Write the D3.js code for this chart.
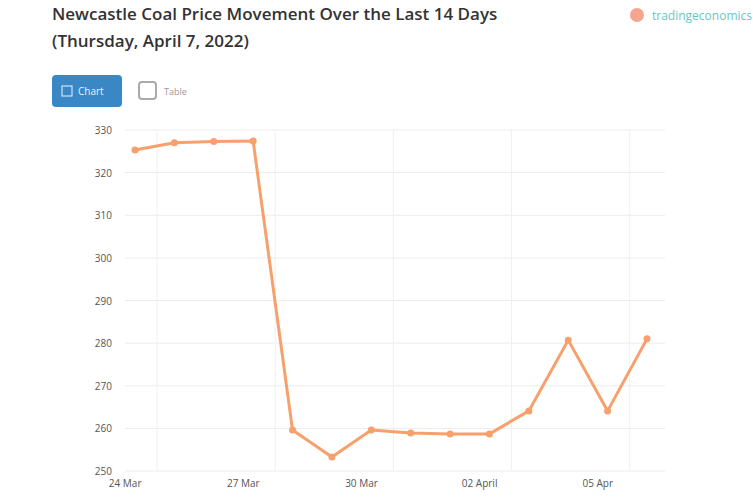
<!DOCTYPE html>
<html><head><meta charset="utf-8">
<script src="https://cdn.jsdelivr.net/npm/d3@7"></script>
<style>
html,body{margin:0;padding:0;background:#fff;}
svg{display:block;font-family:"Open Sans",Arial,sans-serif;}
</style></head>
<body>
<svg id="c" width="753" height="498"></svg>
<script>
const titleLines = ["Newcastle Coal Price Movement Over the Last 14 Days", "(Thursday, April 7, 2022)"];
const dates = ["2022-03-24","2022-03-25","2022-03-26","2022-03-27","2022-03-28","2022-03-29","2022-03-30",
               "2022-03-31","2022-04-01","2022-04-02","2022-04-03","2022-04-04","2022-04-05","2022-04-06"];
const prices = [325.3, 327.0, 327.3, 327.4, 259.6, 253.3, 259.6, 258.9, 258.7, 258.7, 264.1, 280.7, 264.1, 281.0];
const yTicks = [250, 260, 270, 280, 290, 300, 310, 320, 330];
const xTickDates = ["2022-03-24","2022-03-27","2022-03-30","2022-04-02","2022-04-05"];
const xTickLabels = ["24 Mar","27 Mar","30 Mar","02 April","05 Apr"];
const buttons = ["Chart","Table"];
const brand = "tradingeconomics";

const parse = d3.timeParse("%Y-%m-%d");
const data = dates.map((d,i)=>({date:parse(d), v:prices[i]}));
const svg = d3.select("#c");

// title
svg.append("g").selectAll("text").data(titleLines).join("text")
  .attr("x",52).attr("y",(d,i)=>20+i*27)
  .attr("fill","#333").attr("font-size",17).attr("font-weight",600)
  .text(d=>d);

// brand
svg.append("circle").attr("cx",637).attr("cy",15).attr("r",7).attr("fill","#f4a58f");
svg.append("text").attr("x",652).attr("y",20).attr("font-size",12).attr("fill","#6cc4c4").text(brand);

// buttons
svg.append("rect").attr("x",52).attr("y",75).attr("width",70).attr("height",32).attr("rx",4).attr("fill","#3a87c6");
svg.append("rect").attr("x",62).attr("y",86).attr("width",10).attr("height",10).attr("fill","none").attr("stroke","#cfe3f3").attr("stroke-width",1.2);
svg.append("text").attr("x",78).attr("y",95).attr("font-size",10).attr("fill","#e8f2fb").text(buttons[0]);
svg.append("rect").attr("x",139).attr("y",82).attr("width",17).attr("height",17).attr("rx",3).attr("fill","none").attr("stroke","#aaa").attr("stroke-width",2);
svg.append("text").attr("x",164).attr("y",95).attr("font-size",9).attr("fill","#999").text(buttons[1]);

// scales
const x = d3.scaleTime().domain(d3.extent(data,d=>d.date)).range([135,647]);
const y = d3.scaleLinear().domain([250,330]).range([471,130]);
const day = x(parse("2022-03-25")) - x(parse("2022-03-24"));

// horizontal grid
svg.append("g").selectAll("line").data(yTicks).join("line")
  .attr("x1",125).attr("x2",665).attr("y1",d=>y(d)).attr("y2",d=>y(d))
  .attr("stroke","#ececec").attr("stroke-width",1);
// vertical grid
svg.append("g").selectAll("line").data(xTickDates).join("line")
  .attr("x1",d=>x(parse(d))+0.56*day).attr("x2",d=>x(parse(d))+0.56*day)
  .attr("y1",130).attr("y2",471)
  .attr("stroke","#f0f0f0").attr("stroke-width",1);

// y labels
svg.append("g").selectAll("text").data(yTicks).join("text")
  .attr("x",112).attr("y",d=>y(d)+4).attr("text-anchor","end")
  .attr("font-size",10).attr("fill","#555").text(d=>d);
// x labels
svg.append("g").selectAll("text").data(xTickDates).join("text")
  .attr("x",(d)=>x(parse(d))-0.25*day).attr("y",487).attr("text-anchor","middle")
  .attr("font-size",10).attr("fill","#555").text((d,i)=>xTickLabels[i]);

// line
svg.append("path").datum(data)
  .attr("d",d3.line().x(d=>x(d.date)).y(d=>y(d.v)))
  .attr("fill","none").attr("stroke","#f7a06c").attr("stroke-width",3).attr("stroke-linejoin","round");
svg.append("g").selectAll("circle").data(data).join("circle")
  .attr("cx",d=>x(d.date)).attr("cy",d=>y(d.v)).attr("r",3.5)
  .attr("fill","#f7a06c");
</script>
</body></html>
